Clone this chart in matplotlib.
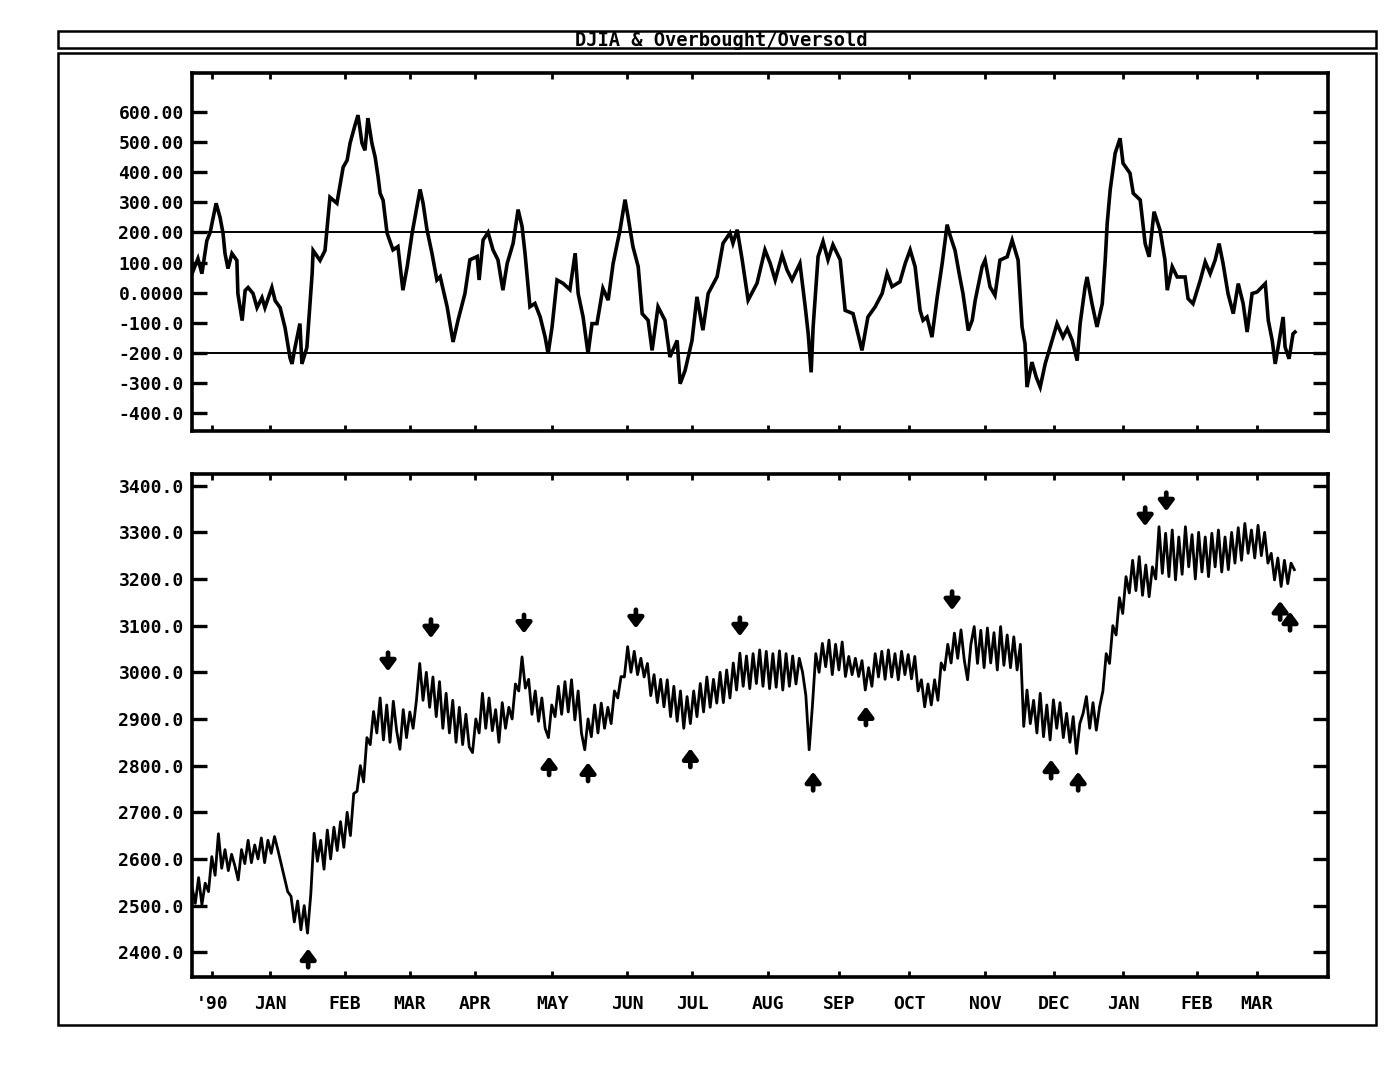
import matplotlib
matplotlib.use('Agg')
import matplotlib.pyplot as plt
from matplotlib.patches import Rectangle

# ---------------- data ----------------
# trading-day index of oscillator readings and the oscillator values
osc_day = [0, 1.8, 3, 4.5, 5.5, 7.3, 8.5, 9.4, 10, 10.9, 12.1, 13.6, 13.9, 15.2, 16.1, 17,
           18.5, 19.7, 21.2, 22.1, 24.2, 25.2, 26.7, 28.2, 29.7, 30.3, 31.2, 32.7, 33.3, 34.8,
           35.8, 36.4, 36.7, 38.8, 40.3, 41.8, 43.9, 45.8, 47, 47.9, 49.4, 50.3, 51.5, 52.4,
           53.3, 54.5, 55.5, 56.4, 57, 57.9, 59.1, 60.9, 62.4, 63.9, 65.2, 66.7, 69.1, 70,
           71.2, 72.7, 74.2, 75.2, 77.3, 79.1, 80.6, 82.7, 84.2, 86.4, 87, 88.2, 89.7, 91.2,
           92.7, 94.2, 95.5, 97.3, 98.8, 100, 100.9, 102.4, 103.9, 105.5, 107, 107.9, 109.1,
           110.6, 112.4, 114.5, 116.1, 117, 118.5, 120, 121.2, 122.7, 124.5, 126.1, 127.6,
           129.7, 131.2, 132.1, 133.6, 135.2, 136.4, 138.2, 139.4, 141.2, 143.3, 144.8, 147,
           147.9, 149.4, 151.5, 153, 154.8, 156.4, 159.1, 160.9, 163, 163.9, 165.2, 166.7,
           168.5, 171.2, 173.6, 175.2, 176.7, 178.8, 180.3, 181.8, 184.2, 185.8, 186.7, 187.6,
           188.2, 189.7, 191.2, 192.7, 194.2, 196.4, 197.9, 200.3, 203, 204.8, 207, 209.1,
           210.6, 212.1, 214.5, 216.1, 217.6, 219.1, 220.6, 221.5, 222.7, 224.2, 225.8, 227.3,
           228.8, 229.7, 231.2, 232.5, 233.6, 235.2, 236.4, 237.3, 239.4, 240.3, 241.8, 243.3,
           244.8, 247, 248.5, 250.3, 251.5, 252.4, 253, 254.5, 255.8, 257, 258.5, 260, 262.1,
           263.9, 265.2, 266.7, 268.2, 269.1, 270.6, 271.2, 272.7, 274.2, 275.8, 276.7, 277.3,
           278.2, 279.7, 281.2, 282.1, 284.2, 285.2, 287.3, 288.8, 290, 291.5, 293.3, 294.8,
           295.5, 297, 298.5, 300.9, 301.8, 303.3, 305.5, 307, 308.5, 310, 311.2, 312.4, 313.9,
           315.5, 317, 318.5, 319.7, 321.2, 322.7, 325.2, 326.1, 327.3, 328.2, 329.1, 330.6,
           331.2, 332.4, 333.6, 334.2]
osc_val = [63, 113, 63, 173, 200, 297, 250, 197, 130, 80, 130, 107, -3, -93, 7, 17,
           -3, -50, -17, -50, 17, -27, -50, -117, -217, -237, -183, -103, -237, -183,
           -27, 63, 140, 107, 140, 317, 297, 417, 440, 497, 557, 590, 497, 473,
           580, 497, 450, 383, 330, 307, 198, 142, 153, 8, 86, 198, 343, 298,
           209, 131, 42, 53, -47, -164, -92, -3, 109, 120, 42, 175, 200, 142,
           109, 8, 97, 164, 276, 220, 131, -47, -36, -81, -148, -203, -114,
           42, 31, 10, 131, -3, -81, -203, -103, -103, 14, -25, 97,
           209, 309, 253, 153, 86, -70, -92, -192, -47, -92, -214, -159,
           -303, -259, -159, -14, -125, -3, 53, 164, 198, 164, 209, 109,
           -25, 31, 142, 97, 42, 125, 75, 42, 97, -47, -136, -265,
           -114, 120, 170, 109, 159, 109, -59, -70, -192, -81, -47, -3,
           64, 20, 36, 97, 142, 86, -59, -92, -81, -148, -14, 97,
           226, 190, 140, 60, -3, -126, -92, -26, 86, 108, 19, -9,
           108, 119, 174, 108, -114, -170, -314, -231, -281, -314, -237, -181, -103,
           -148, -120, -159, -226, -103, 19, 52, -37, -114, -37, 108, 230,
           341, 463, 513, 430, 397, 330, 308, 163, 119, 269, 208, 108,
           8, 86, 52, 52, -20, -37, 41, 102, 63, 108, 163, 97, -3,
           -70, 30, -37, -131, -3, 2, 30, -92, -159, -237, -181, -81,
           -181, -220, -137, -131]

# DJIA, one value per trading day (high/low swings as drawn)
djia = [2540, 2505, 2560, 2502, 2548, 2530, 2605, 2565, 2654, 2580,
        2620, 2575, 2610, 2585, 2555, 2620, 2590, 2640, 2592, 2630,
        2600, 2645, 2592, 2640, 2612, 2648, 2620, 2590, 2560, 2530,
        2520, 2465, 2510, 2448, 2500, 2441, 2525, 2655, 2595, 2640,
        2578, 2662, 2600, 2668, 2618, 2680, 2625, 2700, 2650, 2740,
        2745, 2800, 2765, 2860, 2845, 2916, 2870, 2945, 2855, 2930,
        2850, 2938, 2875, 2835, 2920, 2860, 2915, 2880, 2940, 3019,
        2940, 3000, 2925, 2990, 2905, 2980, 2880, 2955, 2870, 2940,
        2850, 2925, 2845, 2910, 2840, 2828, 2900, 2870, 2955, 2880,
        2945, 2875, 2920, 2850, 2935, 2880, 2925, 2900, 2975, 2960,
        3033, 2966, 2985, 2910, 2960, 2895, 2945, 2880, 2860, 2930,
        2905, 2970, 2910, 2980, 2915, 2984, 2898, 2960, 2870, 2834,
        2900, 2862, 2930, 2870, 2934, 2880, 2925, 2890, 2960, 2945,
        2991, 2990, 3055, 3000, 3045, 2995, 3030, 2990, 3019, 2950,
        2995, 2935, 2985, 2926, 2984, 2905, 2970, 2895, 2960, 2880,
        2948, 2890, 2960, 2905, 2976, 2915, 2990, 2925, 2985, 2934,
        3000, 2935, 3005, 2945, 3020, 2962, 3041, 2970, 3035, 2965,
        3040, 2976, 3048, 2970, 3045, 2965, 3040, 2968, 3046, 2962,
        3040, 2970, 3035, 2975, 3030, 3000, 2950, 2834, 2930, 3040,
        3000, 3062, 3012, 3069, 2995, 3060, 3005, 3065, 2991, 3034,
        2995, 3030, 2991, 3025, 2962, 3010, 2970, 3040, 2990, 3045,
        2985, 3048, 2990, 3040, 2984, 3045, 2995, 3038, 2986, 3034,
        2960, 2984, 2926, 2975, 2930, 2984, 2940, 3020, 3005, 3060,
        3020, 3084, 3030, 3091, 3026, 2984, 3060, 3098, 3019, 3090,
        3010, 3095, 3020, 3085, 3005, 3098, 3015, 3080, 3010, 3076,
        3005, 3060, 2884, 2962, 2890, 2940, 2870, 2955, 2862, 2930,
        2855, 2941, 2880, 2935, 2860, 2912, 2850, 2905, 2826, 2890,
        2912, 2948, 2880, 2935, 2876, 2926, 2960, 3040, 3019, 3100,
        3080, 3160, 3126, 3205, 3170, 3240, 3175, 3248, 3165, 3230,
        3162, 3226, 3200, 3312, 3212, 3298, 3205, 3305, 3198, 3290,
        3210, 3312, 3226, 3295, 3200, 3300, 3215, 3290, 3205, 3298,
        3226, 3305, 3215, 3290, 3220, 3300, 3234, 3310, 3240, 3319,
        3255, 3305, 3245, 3315, 3250, 3300, 3234, 3255, 3198, 3245,
        3184, 3240, 3190, 3234, 3220]

month_labels = ["'90", "JAN", "FEB", "MAR", "APR", "MAY", "JUN", "JUL", "AUG",
                "SEP", "OCT", "NOV", "DEC", "JAN", "FEB", "MAR"]
month_day = [6.1, 23.6, 46.4, 66, 85.8, 109.1, 131.8, 151.5, 174.5, 196, 217.3,
             240.3, 261.2, 282.1, 304.5, 322.7]

osc_ticks = [600, 500, 400, 300, 200, 100, 0, -100, -200, -300, -400]
osc_tick_labels = ["600.00", "500.00", "400.00", "300.00", "200.00", "100.00",
                   "0.0000", "-100.0", "-200.0", "-300.0", "-400.0"]
djia_ticks = [3400, 3300, 3200, 3100, 3000, 2900, 2800, 2700, 2600, 2500, 2400]
djia_tick_labels = ["3400.0", "3300.0", "3200.0", "3100.0", "3000.0", "2900.0",
                    "2800.0", "2700.0", "2600.0", "2500.0", "2400.0"]

overbought = 200
oversold = -200

sell_day = [59.4, 72.4, 100.6, 134.5, 166, 230.3, 288.8, 295.2]
sell_level = [3022, 3093, 3103, 3114, 3097, 3153, 3333, 3365]
buy_day = [35.2, 108.2, 120, 151, 188.2, 204.2, 260.3, 268.5, 329.7, 332.7]
buy_level = [2388, 2800, 2787, 2817, 2767, 2907, 2793, 2767, 3133, 3110]

title = "DJIA & Overbought/Oversold"

# ---------------- figure ----------------
plt.rcParams['font.family'] = ['DejaVu Sans Mono']
plt.rcParams['font.weight'] = 'bold'

W, H = 1386, 1071
fig = plt.figure(figsize=(W / 100, H / 100), dpi=100)
fig.patch.set_facecolor('white')

def fx(px):
    return px / W

def fy(py):
    return 1 - py / H

# outer frames
fig.add_artist(Rectangle((fx(58), fy(48)), fx(1376) - fx(58), fy(31) - fy(48),
                         transform=fig.transFigure, fill=False, lw=1.8, ec='black'))
fig.add_artist(Rectangle((fx(58), fy(1025)), fx(1376) - fx(58), fy(53) - fy(1025),
                         transform=fig.transFigure, fill=False, lw=1.8, ec='black'))
fig.text(fx(721), fy(40), title, ha='center', va='center', fontsize=13.5,
         fontweight='bold', family='DejaVu Sans Mono')

ax1 = fig.add_axes([fx(192), fy(431), fx(1328) - fx(192), fy(73) - fy(431)])
ax2 = fig.add_axes([fx(192), fy(977), fx(1328) - fx(192), fy(474) - fy(977)])

xmax = 344.2
n = len(djia)

# top: oscillator
ax1.plot(osc_day, osc_val, color='black', lw=2.6, solid_joinstyle='miter')
ax1.axhline(overbought, color='black', lw=1.4)
ax1.axhline(oversold, color='black', lw=1.4)
ax1.set_xlim(0, xmax)
ax1.set_ylim(-460, 730)
ax1.set_yticks(osc_ticks)
ax1.set_yticklabels(osc_tick_labels)
ax1.set_xticks(month_day)
ax1.set_xticklabels([])

# bottom: DJIA
ax2.plot(range(n), djia, color='black', lw=2.0)
ax2.set_xlim(0, xmax)
ax2.set_ylim(2347, 3425)
ax2.set_yticks(djia_ticks)
ax2.set_yticklabels(djia_tick_labels)
ax2.set_xticks(month_day)
ax2.set_xticklabels(month_labels)

arrow_half = 20
aprops = dict(arrowstyle='-|>,head_length=0.6,head_width=0.45', lw=3.4,
              color='black', shrinkA=0, shrinkB=0)
for d, lv in zip(sell_day, sell_level):
    ax2.annotate('', xy=(d, lv - arrow_half), xytext=(d, lv + arrow_half),
                 arrowprops=aprops)
for d, lv in zip(buy_day, buy_level):
    ax2.annotate('', xy=(d, lv + arrow_half), xytext=(d, lv - arrow_half),
                 arrowprops=aprops)

for ax in (ax1, ax2):
    for s in ax.spines.values():
        s.set_linewidth(2.6)
    ax.tick_params(axis='y', direction='in', length=11, width=2.4, left=True,
                   right=True, labelsize=13, pad=6)
    ax.tick_params(axis='x', direction='in', length=4, width=2, top=True,
                   bottom=True, labelsize=13, pad=13)
    for lab in ax.get_yticklabels() + ax.get_xticklabels():
        lab.set_fontweight('bold')

fig.savefig('out.png', dpi=100, facecolor='white')
